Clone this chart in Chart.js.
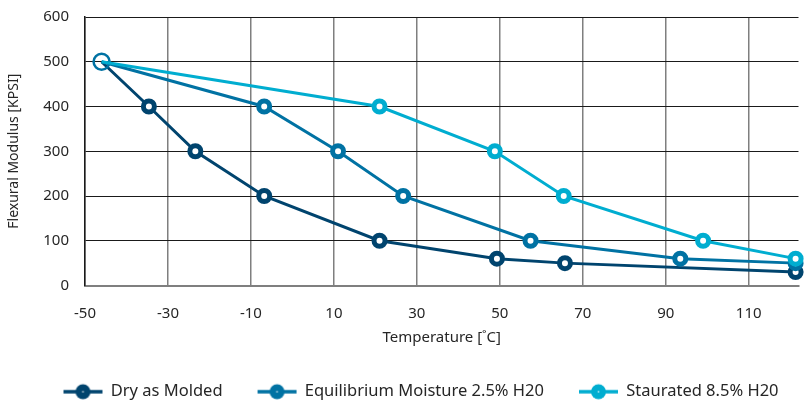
<!DOCTYPE html>
<html>
<head>
<meta charset="utf-8">
<script src="https://cdn.jsdelivr.net/npm/chart.js@4/dist/chart.umd.min.js"></script>
<style>
  html,body{margin:0;padding:0;background:#fff;overflow:hidden;height:403px;}
  #wrap{width:809px;height:410px;position:relative;}
</style>
</head>
<body>
<div id="wrap"><canvas id="c"></canvas></div>
<script>
// Temperature [°C] and flexural modulus [KPSI] per condition
const seriesNames = ["Dry as Molded", "Equilibrium Moisture 2.5% H20", "Staurated 8.5% H20"];
const dryTemp = [-46, -34.6, -23.4, -6.8, 21, 49.3, 65.7, 121.3];
const dryMod  = [500, 400, 300, 200, 100, 60, 50, 30];
const eqTemp  = [-46, -6.8, 11, 26.7, 57.4, 93.5, 121.3];
const eqMod   = [500, 400, 300, 200, 100, 60, 50];
const satTemp = [-46, 21, 48.8, 65.4, 99, 121.3];
const satMod  = [500, 400, 300, 200, 100, 60];
const xTicks = [-50, -30, -10, 10, 30, 50, 70, 90, 110];
const yTicks = [0, 100, 200, 300, 400, 500, 600];

const COLORS = ["#00446e", "#0072a3", "#00add0"];
const FONT = "'Noto Sans', sans-serif";
const LEG_FONT = 16.5, LEG_BOX = 66;

function pts(xs, ys){ return xs.map((x,i)=>({x, y: ys[i]})); }

// first point is drawn once as a thin open ring (on the Equilibrium series)
function ds(i, xs, ys){
  const c = COLORS[i];
  return {
    label: seriesNames[i], data: pts(xs, ys), showLine: true, tension: 0,
    borderColor: c, borderWidth: 3,
    pointBackgroundColor: xs.map((_,k)=>k===0?"rgba(0,0,0,0)":"#fff"),
    pointBorderColor: c,
    pointRadius: xs.map((_,k)=>k===0?(i===1?8:0):5.5),
    pointBorderWidth: xs.map((_,k)=>k===0?2.5:5),
    pointHoverRadius: 0, clip: false, order: 3-i
  };
}

// legend swatch: short line with a filled dot, pushed right so it sits close to its text
function swatch(c){
  const W = 76, r = window.devicePixelRatio||1, cv = document.createElement("canvas");
  cv.width = W*r; cv.height = 20*r; cv.style.width = W+"px"; cv.style.height = "20px";
  const g = cv.getContext("2d"); g.scale(r, r);
  const x0 = 32, x1 = 71;
  g.strokeStyle = c; g.lineWidth = 3.5;
  g.beginPath(); g.moveTo(x0,10); g.lineTo(x1,10); g.stroke();
  g.fillStyle = c;
  g.beginPath(); g.arc((x0+x1)/2,10,7.5,0,Math.PI*2); g.fill();
  g.fillStyle = "rgba(255,255,255,.6)";
  g.beginPath(); g.arc((x0+x1)/2,10,1,0,Math.PI*2); g.fill();
  return cv;
}
const swatches = COLORS.map(swatch);

new Chart(document.getElementById("c"), {
  type: "scatter",
  data: { datasets: [ds(0, dryTemp, dryMod), ds(1, eqTemp, eqMod), ds(2, satTemp, satMod)] },
  options: {
    responsive: true, maintainAspectRatio: false, animation: false,
    layout: { padding: { top: 17, right: 0, left: 6, bottom: 0 } },
    plugins: {
      tooltip: { enabled: false },
      legend: {
        position: "bottom",
        labels: {
          color: "#262626", font: { family: FONT, size: LEG_FONT }, padding: 8,
          usePointStyle: true, pointStyleWidth: LEG_BOX, boxHeight: 17,
          generateLabels: ch => ch.data.datasets.map((d,i)=>({
            text: d.label, pointStyle: swatches[i], fontColor: "#262626",
            strokeStyle: COLORS[i], fillStyle: "#fff", lineWidth: 0, datasetIndex: i, hidden: false
          }))
        }
      }
    },
    scales: {
      x: {
        type: "linear", min: -50, max: 122,
        afterBuildTicks: ax => { ax.ticks = xTicks.map(v=>({value:v})); },
        ticks: { color: "#262626", font: { family: FONT, size: 15 }, padding: 19, autoSkip: false, maxRotation: 0 },
        grid: { color: "#7f7f7f", lineWidth: 1.5, drawTicks: false },
        border: { color: "#7f7f7f", width: 2 },
        title: { display: true, text: "Temperature [˚C]", color: "#262626", font: { family: FONT, size: 15 }, padding: { top: -13, bottom: 29 } }
      },
      y: {
        min: 0, max: 600,
        afterBuildTicks: ax => { ax.ticks = yTicks.map(v=>({value:v})); },
        afterFit: ax => { ax.width = 79; ax.paddingTop = 0; },
        ticks: { color: "#262626", font: { family: FONT, size: 15 }, padding: 16 },
        grid: { color: "#1a1a1a", lineWidth: 1, drawTicks: false },
        border: { color: "#1a1a1a", width: 1.5 },
        title: { display: true, text: "Flexural Modulus [KPSI]", color: "#262626", font: { family: FONT, size: 14 }, padding: 0 }
      }
    }
  }
});
</script>
</body>
</html>
